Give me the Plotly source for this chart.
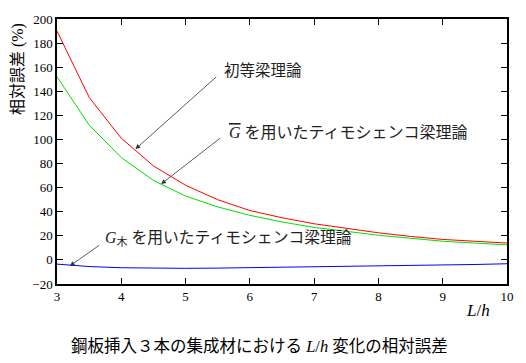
import plotly.graph_objects as go

x_vals = [3, 3.5, 4, 4.5, 5, 5.5, 6, 6.5, 7, 7.5, 8, 8.5, 9, 9.5, 10]
red_vals = [190, 135, 101, 78, 62, 50, 41, 35, 30, 26, 22.5, 19.5, 17, 15.5, 14]
green_vals = [152, 112, 85, 66, 53, 44, 37, 31.5, 27, 23.5, 20.5, 18, 15.5, 14, 12.5]
blue_vals = [-3.5, -5.5, -6.5, -7, -7, -6.8, -6.5, -6, -5.5, -5.2, -5, -4.6, -4.2, -3.8, -3.2]
x_ticks = [3, 4, 5, 6, 7, 8, 9, 10]
y_ticks = [-20, 0, 20, 40, 60, 80, 100, 120, 140, 160, 180, 200]

serif = "Liberation Serif, DejaVu Serif, Noto Sans CJK JP, serif"
cjk = "Liberation Serif, Noto Sans CJK JP, serif"

fig = go.Figure()
fig.add_trace(go.Scatter(x=x_vals, y=red_vals, mode="lines", line=dict(color="#ff0000", width=1)))
fig.add_trace(go.Scatter(x=x_vals, y=green_vals, mode="lines", line=dict(color="#00e000", width=1)))
fig.add_trace(go.Scatter(x=x_vals, y=blue_vals, mode="lines", line=dict(color="#0000ff", width=1)))

axis_common = dict(showgrid=False, zeroline=False, showline=True, linecolor="black", linewidth=1.5,
                   mirror="ticks", ticks="inside", ticklen=6, tickcolor="black", tickwidth=1,
                   tickfont=dict(family=serif, size=13, color="black"))
fig.update_xaxes(range=[3, 10], tickvals=x_ticks, **axis_common)
fig.update_yaxes(range=[-20, 200], tickvals=y_ticks, **axis_common)

ann = []
arrow = dict(showarrow=True, arrowhead=2, arrowsize=1.2, arrowwidth=0.8, arrowcolor="#333333",
             axref="x", ayref="y", xref="x", yref="y", text="")
ann.append(dict(x=4.22, y=92, ax=5.5, ay=153, **arrow))
ann.append(dict(x=4.62, y=63, ax=5.56, ay=102, **arrow))
ann.append(dict(x=3.2, y=-5, ax=3.68, ay=13, **arrow))
ann.append(dict(x=5.57, y=157, text="初等梁理論", showarrow=False, xanchor="left", yanchor="middle",
                font=dict(family=cjk, size=15.5, color="#222")))
ann.append(dict(x=5.64, y=106, text='<i><span style="text-decoration:overline">G</span></i> を用いたティモシェンコ梁理論',
                showarrow=False, xanchor="left", yanchor="middle", font=dict(family=cjk, size=16, color="#222")))
ann.append(dict(x=3.72, y=18, text="<i>G</i><sub>木</sub> を用いたティモシェンコ梁理論", showarrow=False,
                xanchor="left", yanchor="middle", font=dict(family=cjk, size=15.8, color="#222")))
ann.append(dict(xref="paper", yref="paper", x=0.935, y=-0.1, text="<i>L</i>/<i>h</i>", showarrow=False,
                xanchor="center", yanchor="middle", font=dict(family=serif, size=17, color="black")))
ann.append(dict(xref="paper", yref="paper", x=0.45, y=-0.235, text="鋼板挿入３本の集成材における <i>L</i>/<i>h</i> 変化の相対誤差",
                showarrow=False, xanchor="center", yanchor="middle", font=dict(family=cjk, size=16.5, color="black")))
ann.append(dict(xref="paper", yref="paper", x=-0.085, y=0.81, text="相対誤差 (%)", textangle=-90, showarrow=False,
                xanchor="center", yanchor="middle", font=dict(family=cjk, size=16, color="black")))

fig.update_layout(width=526, height=363, margin=dict(l=57, r=15, t=15, b=79),
                  plot_bgcolor="white", paper_bgcolor="white", showlegend=False, annotations=ann)
fig.write_html("out.html")
